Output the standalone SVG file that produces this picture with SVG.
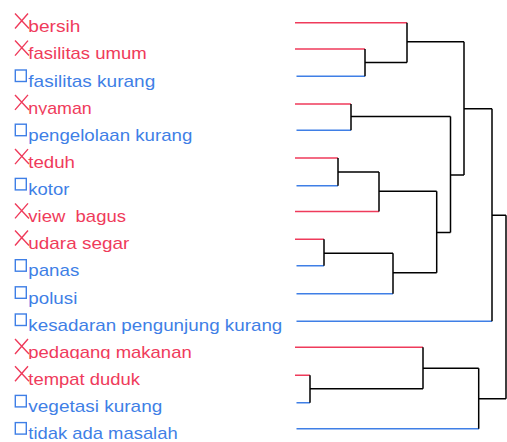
<svg xmlns="http://www.w3.org/2000/svg" width="507" height="442" viewBox="0 0 507 442">
  <style>
    .lbl { font-family: "Liberation Sans", Arial, sans-serif; font-size: 17px; }
    .red { fill: #ef3b5b; }
    .blue { fill: #3f7fe6; }
    .mx { stroke: #ef3b5b; stroke-width: 1.4; fill: none; }
    .mq { stroke: #3f7fe6; stroke-width: 1.4; fill: none; }
    .lr { stroke: #ef3b5b; stroke-width: 1.5; fill: none; }
    .lb { stroke: #3f7fe6; stroke-width: 1.5; fill: none; }
    .tree { stroke: #000; stroke-width: 1.5; fill: none; }
  </style>
  <defs>
    <path id="cross" d="M0,0 L14,15 M0,15 L13,0"/>
    <rect id="box" x="0" y="0" width="11" height="11.5"/>
    <clipPath id="cut3"><rect x="0" y="90" width="300" height="24.8"/></clipPath>
    <clipPath id="cut12"><rect x="0" y="335" width="300" height="24"/></clipPath>
  </defs>

  <!-- legend labels -->
  <g id="leaf-bersih"><use href="#cross" class="mx" x="15" y="13.5"/><text class="lbl red" x="28.3" y="32.3" textLength="52" lengthAdjust="spacingAndGlyphs">bersih</text></g>
  <g id="leaf-fasilitas-umum"><use href="#cross" class="mx" x="15" y="40.6"/><text class="lbl red" x="28.3" y="59.4" textLength="118.5" lengthAdjust="spacingAndGlyphs">fasilitas umum</text></g>
  <g id="leaf-fasilitas-kurang"><use href="#box" class="mq" x="15.3" y="70"/><text class="lbl blue" x="28.3" y="86.6" textLength="127" lengthAdjust="spacingAndGlyphs">fasilitas kurang</text></g>
  <g id="leaf-nyaman" clip-path="url(#cut3)"><use href="#cross" class="mx" x="15" y="94.9"/><text class="lbl red" x="28.3" y="113.7" textLength="63.5" lengthAdjust="spacingAndGlyphs">nyaman</text></g>
  <g id="leaf-pengelolaan-kurang"><use href="#box" class="mq" x="15.3" y="124.2"/><text class="lbl blue" x="28.3" y="140.8" textLength="164" lengthAdjust="spacingAndGlyphs">pengelolaan kurang</text></g>
  <g id="leaf-teduh"><use href="#cross" class="mx" x="15" y="149.1"/><text class="lbl red" x="28.3" y="167.9" textLength="46.7" lengthAdjust="spacingAndGlyphs">teduh</text></g>
  <g id="leaf-kotor"><use href="#box" class="mq" x="15.3" y="178.4"/><text class="lbl blue" x="28.3" y="195.1" textLength="41" lengthAdjust="spacingAndGlyphs">kotor</text></g>
  <g id="leaf-view-bagus"><use href="#cross" class="mx" x="15" y="203.4"/><text class="lbl red" x="28.3" y="222.2" textLength="97.7" lengthAdjust="spacingAndGlyphs" style="white-space:pre">view  bagus</text></g>
  <g id="leaf-udara-segar"><use href="#cross" class="mx" x="15" y="230.5"/><text class="lbl red" x="28.3" y="249.3" textLength="101" lengthAdjust="spacingAndGlyphs">udara segar</text></g>
  <g id="leaf-panas"><use href="#box" class="mq" x="15.3" y="259.7"/><text class="lbl blue" x="28.3" y="276.4" textLength="51" lengthAdjust="spacingAndGlyphs">panas</text></g>
  <g id="leaf-polusi"><use href="#box" class="mq" x="15.3" y="286.8"/><text class="lbl blue" x="28.3" y="303.6" textLength="49" lengthAdjust="spacingAndGlyphs">polusi</text></g>
  <g id="leaf-kesadaran"><use href="#box" class="mq" x="15.3" y="314"/><text class="lbl blue" x="28.3" y="330.7" textLength="254" lengthAdjust="spacingAndGlyphs">kesadaran pengunjung kurang</text></g>
  <g id="leaf-pedagang-makanan" clip-path="url(#cut12)"><use href="#cross" class="mx" x="15" y="339.0"/><text class="lbl red" x="28.3" y="357.9" textLength="163.4" lengthAdjust="spacingAndGlyphs">pedagang makanan</text></g>
  <g id="leaf-tempat-duduk"><use href="#cross" class="mx" x="15" y="366.2"/><text class="lbl red" x="28.3" y="385.0" textLength="111.7" lengthAdjust="spacingAndGlyphs">tempat duduk</text></g>
  <g id="leaf-vegetasi-kurang"><use href="#box" class="mq" x="15.3" y="395.4"/><text class="lbl blue" x="28.3" y="412.1" textLength="134" lengthAdjust="spacingAndGlyphs">vegetasi kurang</text></g>
  <g id="leaf-tidak-ada-masalah"><use href="#box" class="mq" x="15.3" y="422.6"/><text class="lbl blue" x="28.3" y="439.3" textLength="149.4" lengthAdjust="spacingAndGlyphs">tidak ada masalah</text></g>

  <!-- dendrogram branches -->
  <g id="connectors">
    <!-- leaf stems, coloured by class -->
    <path class="lr" d="M295,22.7H407 M295,48.9H365 M295,104H351 M295,158H338 M295,211.5H379 M295,239.3H324 M295,347.3H423 M295,375.3H310"/>
    <path class="lb" d="M296.5,76.3H365 M296.5,130.2H351 M296.5,185.7H338 M296.5,265.7H324 M296.5,293.7H393 M296.5,321.3H492 M296.5,402.7H310 M296.5,428.7H479"/>
    <!-- merges -->
    <path class="tree" d="
      M365,48.9V76.3 M365,62.4H407
      M407,22.7V62.4 M407,41.8H464
      M351,104V130.2 M351,116.6H450.5
      M338,158V185.7 M338,172H379
      M379,172V211.5 M379,191.3H436.7
      M324,239.3V265.7 M324,253.3H393
      M393,253.3V293.7 M393,272.8H436.7
      M436.7,191.3V272.8 M436.7,232.5H450.5
      M450.5,116.6V232.5 M450.5,175H464
      M464,41.8V175 M464,108.7H492
      M492,108.7V321.3 M492,215.2H506
      M310,375.3V402.7 M310,388.8H423
      M423,347.3V388.8 M423,368.3H478.7
      M478.7,368.3V428.7 M478.7,398.8H506
      M506,215.2V398.8"/>
  </g>
</svg>
